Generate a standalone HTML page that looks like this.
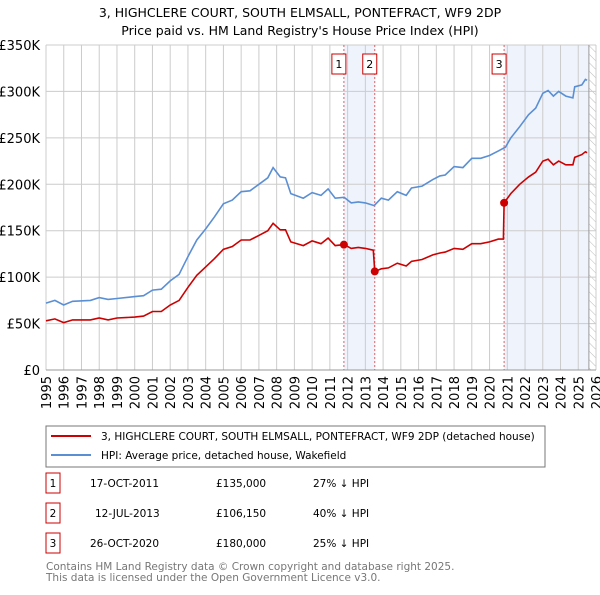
<!DOCTYPE html>
<html><head><meta charset="utf-8"><style>
body{margin:0;background:#fff;font-family:"Liberation Sans","DejaVu Sans",sans-serif;}
svg text{font-family:"DejaVu Sans","Liberation Sans",sans-serif;}
</style></head><body>
<svg id="c" width="600" height="590" viewBox="0 0 600 590" xmlns="http://www.w3.org/2000/svg">
<text x="300" y="17" text-anchor="middle" font-size="12.5">3, HIGHCLERE COURT, SOUTH ELMSALL, PONTEFRACT, WF9 2DP</text>
<text x="300" y="35" text-anchor="middle" font-size="12.5">Price paid vs. HM Land Registry's House Price Index (HPI)</text>
<g id="grid"></g><g id="plot"></g>
<rect x="46" y="426" width="499" height="41" fill="#fff" stroke="#777"/>
<line x1="51" y1="436" x2="91" y2="436" stroke="#cc0000" stroke-width="2"/>
<text x="101" y="440" font-size="10.5">3, HIGHCLERE COURT, SOUTH ELMSALL, PONTEFRACT, WF9 2DP (detached house)</text>
<line x1="51" y1="455" x2="91" y2="455" stroke="#5b8fd4" stroke-width="2"/>
<text x="101" y="459" font-size="10.5">HPI: Average price, detached house, Wakefield</text>
<g font-size="10.5" id="table"></g>
<text x="46" y="570" font-size="10.5" fill="#777">Contains HM Land Registry data © Crown copyright and database right 2025.</text>
<text x="46" y="581" font-size="10.5" fill="#777">This data is licensed under the Open Government Licence v3.0.</text>
</svg>
<script>
const hpiYears=[1995,1995.5,1996,1996.5,1997.5,1998,1998.5,1999,2000,2000.5,2001,2001.5,2002,2002.5,2003,2003.5,2004,2004.5,2005,2005.5,2006,2006.5,2007,2007.5,2007.8,2008.2,2008.5,2008.8,2009.5,2010,2010.5,2010.9,2011.3,2011.8,2012.2,2012.6,2013.0,2013.5,2013.9,2014.3,2014.8,2015.3,2015.6,2016.2,2016.8,2017.2,2017.5,2018,2018.5,2019,2019.5,2020,2020.5,2020.9,2021.2,2021.7,2022.2,2022.6,2023.0,2023.3,2023.6,2023.9,2024.3,2024.7,2024.8,2025.2,2025.4,2025.5];
const hpiValues=[72,75,70,74,75,78,76,77,79,80,86,87,96,103,122,140,152,165,179,183,192,193,200,207,218,208,207,190,185,191,188,195,185,186,180,181,180,177,185,183,192,188,196,198,205,209,210,219,218,228,228,231,236,240,250,262,275,282,298,301,295,300,295,293,305,307,313,312];
const propYears=[1995,1995.5,1996,1996.5,1997.5,1998,1998.5,1999,2000,2000.5,2001,2001.5,2002,2002.5,2003,2003.5,2004,2004.5,2005,2005.5,2006,2006.5,2007,2007.5,2007.8,2008.2,2008.5,2008.8,2009.5,2010,2010.5,2010.9,2011.3,2011.8,2012.2,2012.6,2013.0,2013.45,2013.53,2013.9,2014.3,2014.8,2015.3,2015.6,2016.2,2016.8,2017.2,2017.5,2018,2018.5,2019,2019.5,2020,2020.5,2020.78,2020.82,2021.2,2021.7,2022.2,2022.6,2023.0,2023.3,2023.6,2023.9,2024.3,2024.7,2024.8,2025.2,2025.4,2025.5];
const propValues=[53,55,51,54,54,56,54,56,57,58,63,63,70,75,89,102,111,120,130,133,140,140,145,150,158,151,151,138,134,139,136,142,134,135,131,132,131,129,106,109,110,115,112,117,119,124,126,127,131,130,136,136,138,141,141,180,190,200,208,213,225,227,221,225,221,221,229,232,235,234];
const saleLabels=["1","2","3"];
const saleYears=[2011.79,2013.53,2020.82];
const saleValues=[135,106.15,180];
const saleDates=["17-OCT-2011","12-JUL-2013","26-OCT-2020"];
const salePrices=["£135,000","£106,150","£180,000"];
const saleDiffs=["27% ↓ HPI","40% ↓ HPI","25% ↓ HPI"];
const yTicks=[0,50,100,150,200,250,300,350];
const yTickLabels=["£0","£50K","£100K","£150K","£200K","£250K","£300K","£350K"];
const xTicks=[1995,1996,1997,1998,1999,2000,2001,2002,2003,2004,2005,2006,2007,2008,2009,2010,2011,2012,2013,2014,2015,2016,2017,2018,2019,2020,2021,2022,2023,2024,2025,2026];
const dataEnd=2025.6;
const NS="http://www.w3.org/2000/svg";
const X0=46,X1=596,Y0=370,Y1=45;
const xs=y=>X0+(y-1995)/(2026-1995)*(X1-X0);
const ys=v=>Y0-v/350*(Y0-Y1);
function mk(t,a,p){const e=document.createElementNS(NS,t);for(const k in a)e.setAttribute(k,a[k]);p.appendChild(e);return e;}
const grid=document.getElementById('grid'),plot=document.getElementById('plot'),tbl=document.getElementById('table');
let sh=mk('rect',{x:xs(saleYears[0]),y:Y1,width:xs(saleYears[1])-xs(saleYears[0]),height:Y0-Y1,fill:'#eef3fc'},grid);


let sh2=mk('rect',{x:xs(saleYears[2]),y:Y1,width:xs(dataEnd)-xs(saleYears[2]),height:Y0-Y1,fill:'#eef3fc'},grid);


let pat=mk('defs',{},grid);
pat.innerHTML='<pattern id="h" width="6" height="6" patternUnits="userSpaceOnUse" patternTransform="rotate(-45)"><line x1="0" y1="0" x2="0" y2="6" stroke="#bbb" stroke-width="1"/></pattern>';
let hr=mk('rect',{x:xs(dataEnd),y:Y1,width:X1-xs(dataEnd),height:Y0-Y1,fill:'url(#h)'},grid);


yTicks.forEach((v,i)=>{
 let l=mk('line',{x1:X0,x2:X1,y1:ys(v),y2:ys(v),stroke:'#ccc'},grid);
 
 
 let t=mk('text',{x:X0-6,y:ys(v)+5,'text-anchor':'end','font-size':'13'},grid);t.textContent=yTickLabels[i];
 
 
});
xTicks.forEach(yr=>{
 let l=mk('line',{x1:xs(yr),x2:xs(yr),y1:Y1,y2:Y0,stroke:'#ccc'},grid);
 
 
 let t=mk('text',{x:0,y:0,'text-anchor':'end','font-size':'13',transform:`translate(${xs(yr)+5},${Y0+6}) rotate(-90)`},grid);t.textContent=yr;
 
 
});
let vl=mk('line',{x1:xs(dataEnd),x2:xs(dataEnd),y1:Y1,y2:Y0,stroke:'#999'},grid);


saleYears.forEach((yr,i)=>{
 let l=mk('line',{x1:xs(yr),x2:xs(yr),y1:Y1,y2:Y0,stroke:'#e06060','stroke-dasharray':'2,2'},plot);
 
 
 let b=mk('rect',{x:xs(yr)-12,y:54,width:14,height:20,fill:'#fff',stroke:'#cc0000'},plot);
 
 
 let t=mk('text',{x:xs(yr)-5,y:68,'text-anchor':'middle','font-size':'11'},plot);t.textContent=saleLabels[i];
 
 
});
const pts=(a,b)=>a.map((y,i)=>xs(y).toFixed(1)+','+ys(b[i]).toFixed(1)).join(' ');
let hl=mk('polyline',{points:pts(hpiYears,hpiValues),fill:'none',stroke:'#5b8fd4','stroke-width':1.6},plot);


let pl=mk('polyline',{points:pts(propYears,propValues),fill:'none',stroke:'#cc0000','stroke-width':1.6},plot);


saleYears.forEach((yr,i)=>{
 let c=mk('circle',{cx:xs(yr),cy:ys(saleValues[i]),r:4,fill:'#cc0000'},plot);
 
 
});
let ax=mk('line',{x1:X0,x2:X1,y1:Y0,y2:Y0,stroke:'#999'},grid);


saleLabels.forEach((s,i)=>{
 const cy=483+i*30;
 let b=mk('rect',{x:46,y:cy-10,width:14,height:20,fill:'#fff',stroke:'#cc0000'},tbl);
 
 
 const cells=[[53,s,'middle'],[90,saleDates[i],'start'],[216,salePrices[i],'start'],[313,saleDiffs[i],'start']];
 cells.forEach((c,j)=>{
  let t=mk('text',{x:c[0]+(i==1&&j==1?5:0),y:cy+4,'text-anchor':c[2]},tbl);t.textContent=c[1];
  
  
 });
});
</script>
</body></html>
